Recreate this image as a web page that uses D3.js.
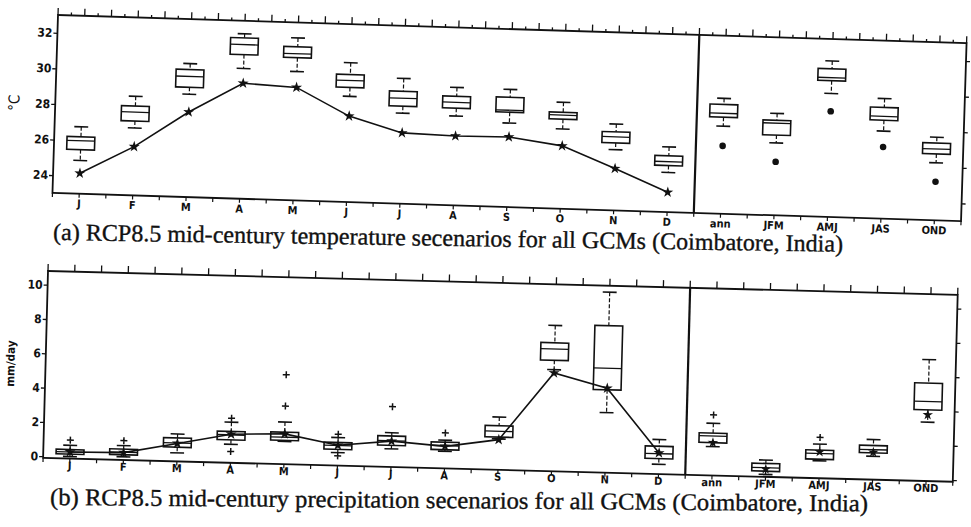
<!DOCTYPE html>
<html>
<head>
<meta charset="utf-8">
<title>RCP8.5 mid-century scenarios, Coimbatore</title>
<style>
  body { margin: 0; background: #fff; }
  svg { display: block; }
  .lbl { font-family: "Liberation Sans Narrow", "DejaVu Sans Condensed", "Liberation Sans", sans-serif; font-weight: bold; fill: #111; }
  .caption { font-family: "Liberation Serif", "DejaVu Serif", serif; fill: #111; stroke: #111; stroke-width: 0.35px; font-size: 24px; }
</style>
</head>
<body>
<svg width="971" height="527"></svg>
<script src="https://d3js.org/d3.v7.min.js"></script>
<script>
// 12 months, then 5 seasonal aggregates
const categories = ["J", "F", "M", "A", "M", "J", "J", "A", "S", "O", "N", "D", "ann", "JFM", "AMJ", "JAS", "OND"];
const nMonths = 12;

// (a) temperature, deg C
const tempTicks = [24, 26, 28, 30, 32];
const tempLow  = [24.87, 26.79, 28.78, 30.32, 30.24, 28.94, 28.09, 28.02, 27.72, 27.48, 26.41, 25.22, 27.92, 27.07, 29.94, 27.92, 26.23];
const tempQ1   = [25.48, 27.18, 29.17, 31.10, 31.02, 29.44, 28.48, 28.46, 28.33, 28.03, 26.79, 25.61, 28.42, 27.51, 30.66, 28.53, 26.73];
const tempMed  = [25.98, 27.68, 29.78, 31.66, 31.24, 29.83, 28.93, 28.79, 28.44, 28.26, 27.13, 25.83, 28.64, 28.18, 30.83, 28.75, 27.01];
const tempQ3   = [26.20, 28.02, 30.17, 32.04, 31.63, 30.17, 29.32, 29.13, 29.17, 28.42, 27.41, 26.16, 29.14, 28.34, 31.33, 29.25, 27.34];
const tempHigh = [26.76, 28.57, 30.50, 32.27, 32.13, 30.83, 30.04, 29.63, 29.61, 28.98, 27.85, 26.66, 29.48, 28.73, 31.77, 29.75, 27.67];
const tempObs  = [24.15, 25.74, 27.78, 29.49, 29.35, 27.83, 26.98, 26.90, 26.94, 26.53, 25.35, 24.11, 26.81, 26.01, 28.94, 27.03, 25.17];
const tempOutliers = [];

// (b) precipitation, mm/day
const precTicks = [0, 2, 4, 6, 8, 10];
const precLow  = [0.02, 0.09, 0.40, 0.98, 1.23, 0.66, 0.96, 0.90, 1.70, 5.82, 3.40, 0.47, 1.58, 0.04, 0.92, 1.26, 3.33];
const precQ1   = [0.16, 0.21, 0.73, 1.24, 1.29, 0.85, 1.16, 0.99, 1.81, 6.37, 4.73, 0.80, 1.81, 0.23, 1.01, 1.46, 4.05];
const precMed  = [0.29, 0.35, 0.98, 1.53, 1.48, 1.07, 1.43, 1.23, 2.15, 7.03, 5.99, 1.09, 2.20, 0.43, 1.34, 1.65, 4.54];
const precQ3   = [0.43, 0.54, 1.27, 1.73, 1.77, 1.25, 1.71, 1.43, 2.47, 7.39, 8.47, 1.52, 2.37, 0.68, 1.54, 1.89, 5.61];
const precHigh = [0.68, 0.74, 1.50, 2.27, 2.36, 1.54, 1.90, 1.55, 2.98, 8.40, 10.42, 1.91, 2.94, 0.88, 1.89, 2.24, 6.98];
const precObs  = [0.29, 0.33, 0.95, 1.57, 1.67, 1.09, 1.41, 1.19, 1.66, 5.63, 4.82, 1.13, 1.81, 0.35, 1.44, 1.50, 3.76];
const precOutliers = [[0, 0.98], [1, 1.03], [3, 2.50], [3, 0.56], [4, 5.12], [4, 3.29], [5, 1.73], [5, 0.47], [6, 3.42], [7, 1.97], [12, 3.43], [14, 2.28]];

const svg = d3.select("svg");

function drawPanel(p) {
    // the scan is slightly rotated, so each panel gets its own small tilt
    const g = svg.append("g").attr("transform", `translate(${p.x},${p.y}) rotate(${p.angle})`);
    const x = d3.scaleBand().domain(d3.range(categories.length)).range([0, p.w]);
    const y = d3.scaleLinear().domain(p.domain).range([p.h, 0]);
    const cx = i => x(i) + x.bandwidth() / 2;
    const boxW = x.bandwidth() * 0.52, capW = boxW * 0.5;

    // minor ticks, top and bottom
    const topTicks = d3.range(0, categories.length * p.topDiv + 1);
    g.append("g").selectAll("line").data(topTicks).join("line")
        .attr("x1", j => j * x.step() / p.topDiv).attr("x2", j => j * x.step() / p.topDiv)
        .attr("y1", 0).attr("y2", j => (j % 2 === 0 || p.topDiv === 2) ? -7 : -3)
        .attr("stroke", "#111").attr("stroke-width", 1.3);
    const botTicks = d3.range(0, categories.length * 2 + 1);
    g.append("g").selectAll("line").data(botTicks).join("line")
        .attr("x1", j => j * x.step() / 2).attr("x2", j => j * x.step() / 2)
        .attr("y1", p.h).attr("y2", p.h + 4)
        .attr("stroke", "#111").attr("stroke-width", 1.2);

    // left axis with labels, right axis ticks only
    const left = g.append("g").call(d3.axisLeft(y).tickValues(p.ticks).tickSize(4).tickPadding(1));
    left.select(".domain").remove();
    left.selectAll("line").attr("stroke", "#111").attr("stroke-width", 1.3);
    left.selectAll("text").attr("class", "lbl").style("font-size", "12px");
    const right = g.append("g").attr("transform", `translate(${p.w},0)`)
        .call(d3.axisRight(y).tickValues(p.ticks).tickSize(4).tickFormat(""));
    right.select(".domain").remove();
    right.selectAll("line").attr("stroke", "#111").attr("stroke-width", 1.3);

    // category labels
    const bottom = g.append("g").attr("transform", `translate(0,${p.h})`)
        .call(d3.axisBottom(x).tickSize(0).tickPadding(p.labelPad).tickFormat(i => categories[i]));
    bottom.select(".domain").remove();
    bottom.selectAll("text").attr("class", "lbl").style("font-size", "11px");

    // frame and divider between months and seasons
    g.append("rect").attr("x", 0).attr("y", 0).attr("width", p.w).attr("height", p.h)
        .attr("fill", "none").attr("stroke", "#111").attr("stroke-width", 1.8);
    g.append("line").attr("x1", x(nMonths)).attr("x2", x(nMonths)).attr("y1", 0).attr("y2", p.h)
        .attr("stroke", "#111").attr("stroke-width", 2.2);

    // axis title
    g.append("text").attr("class", "lbl")
        .attr("transform", `translate(${p.titleX},${p.h / 2}) rotate(-90)`)
        .attr("text-anchor", "middle").style("font-size", p.titleSize)
        .style("font-weight", p.titleWeight).text(p.title);

    // boxes
    const idx = d3.range(categories.length);
    const box = g.append("g").selectAll("g").data(idx).join("g");
    box.append("line").attr("x1", cx).attr("x2", cx)
        .attr("y1", i => y(p.high[i])).attr("y2", i => y(p.q3[i]))
        .attr("stroke", "#111").attr("stroke-width", 1.2).attr("stroke-dasharray", "4,2");
    box.append("line").attr("x1", cx).attr("x2", cx)
        .attr("y1", i => y(p.q1[i])).attr("y2", i => y(p.low[i]))
        .attr("stroke", "#111").attr("stroke-width", 1.2).attr("stroke-dasharray", "4,2");
    box.append("line").attr("x1", i => cx(i) - capW / 2).attr("x2", i => cx(i) + capW / 2)
        .attr("y1", i => y(p.high[i])).attr("y2", i => y(p.high[i]))
        .attr("stroke", "#111").attr("stroke-width", 1.6);
    box.append("line").attr("x1", i => cx(i) - capW / 2).attr("x2", i => cx(i) + capW / 2)
        .attr("y1", i => y(p.low[i])).attr("y2", i => y(p.low[i]))
        .attr("stroke", "#111").attr("stroke-width", 1.6);
    box.append("rect").attr("x", i => cx(i) - boxW / 2).attr("width", boxW)
        .attr("y", i => y(p.q3[i])).attr("height", i => y(p.q1[i]) - y(p.q3[i]))
        .attr("fill", "#fff").attr("stroke", "#111").attr("stroke-width", 1.6);
    box.append("line").attr("x1", i => cx(i) - boxW / 2).attr("x2", i => cx(i) + boxW / 2)
        .attr("y1", i => y(p.med[i])).attr("y2", i => y(p.med[i]))
        .attr("stroke", "#111").attr("stroke-width", 1.3);

    // outliers as plus signs
    g.append("g").selectAll("path").data(p.outliers).join("path")
        .attr("d", d => `M${cx(d[0]) - 3.5},${y(d[1])}h7M${cx(d[0])},${y(d[1]) - 3.5}v7`)
        .attr("stroke", "#111").attr("stroke-width", 1.5);

    // observed values: line through the months, markers everywhere
    const line = d3.line().x(i => cx(i)).y(i => y(p.obs[i]));
    g.append("path").datum(d3.range(nMonths)).attr("d", line)
        .attr("fill", "none").attr("stroke", "#111").attr("stroke-width", 1.6);
    g.append("g").selectAll("path").data(idx).join("path")
        .attr("transform", i => `translate(${cx(i)},${y(p.obs[i])})`)
        .attr("d", i => d3.symbol(i < nMonths ? d3.symbolStar : p.seasonSymbol, i < nMonths ? 38 : 34)())
        .attr("fill", "#111");
}

drawPanel({
    x: 58, y: 15, angle: 1.78, w: 909, h: 178,
    domain: [23, 33], ticks: tempTicks,
    low: tempLow, q1: tempQ1, med: tempMed, q3: tempQ3, high: tempHigh, obs: tempObs, outliers: tempOutliers,
    topDiv: 4, labelPad: 6, seasonSymbol: d3.symbolCircle,
    title: "°C", titleX: -36, titleSize: "15px", titleWeight: "normal"
});

drawPanel({
    x: 48, y: 271, angle: 1.5, w: 910, h: 187,
    domain: [-0.1, 10.8], ticks: precTicks,
    low: precLow, q1: precQ1, med: precMed, q3: precQ3, high: precHigh, obs: precObs, outliers: precOutliers,
    topDiv: 2, labelPad: 3, seasonSymbol: d3.symbolStar,
    title: "mm/day", titleX: -31, titleSize: "11.5px", titleWeight: "bold"
});

// captions under each panel
svg.append("text").attr("class", "caption")
    .attr("transform", "translate(53,240) rotate(0.86)")
    .attr("textLength", 790).attr("lengthAdjust", "spacingAndGlyphs")
    .text("(a) RCP8.5 mid-century temperature secenarios for all GCMs (Coimbatore, India)");
svg.append("text").attr("class", "caption")
    .attr("transform", "translate(50,505) rotate(0.45)")
    .attr("textLength", 818).attr("lengthAdjust", "spacingAndGlyphs")
    .text("(b) RCP8.5 mid-century precipitation secenarios for all GCMs (Coimbatore, India)");
</script>
</body>
</html>
